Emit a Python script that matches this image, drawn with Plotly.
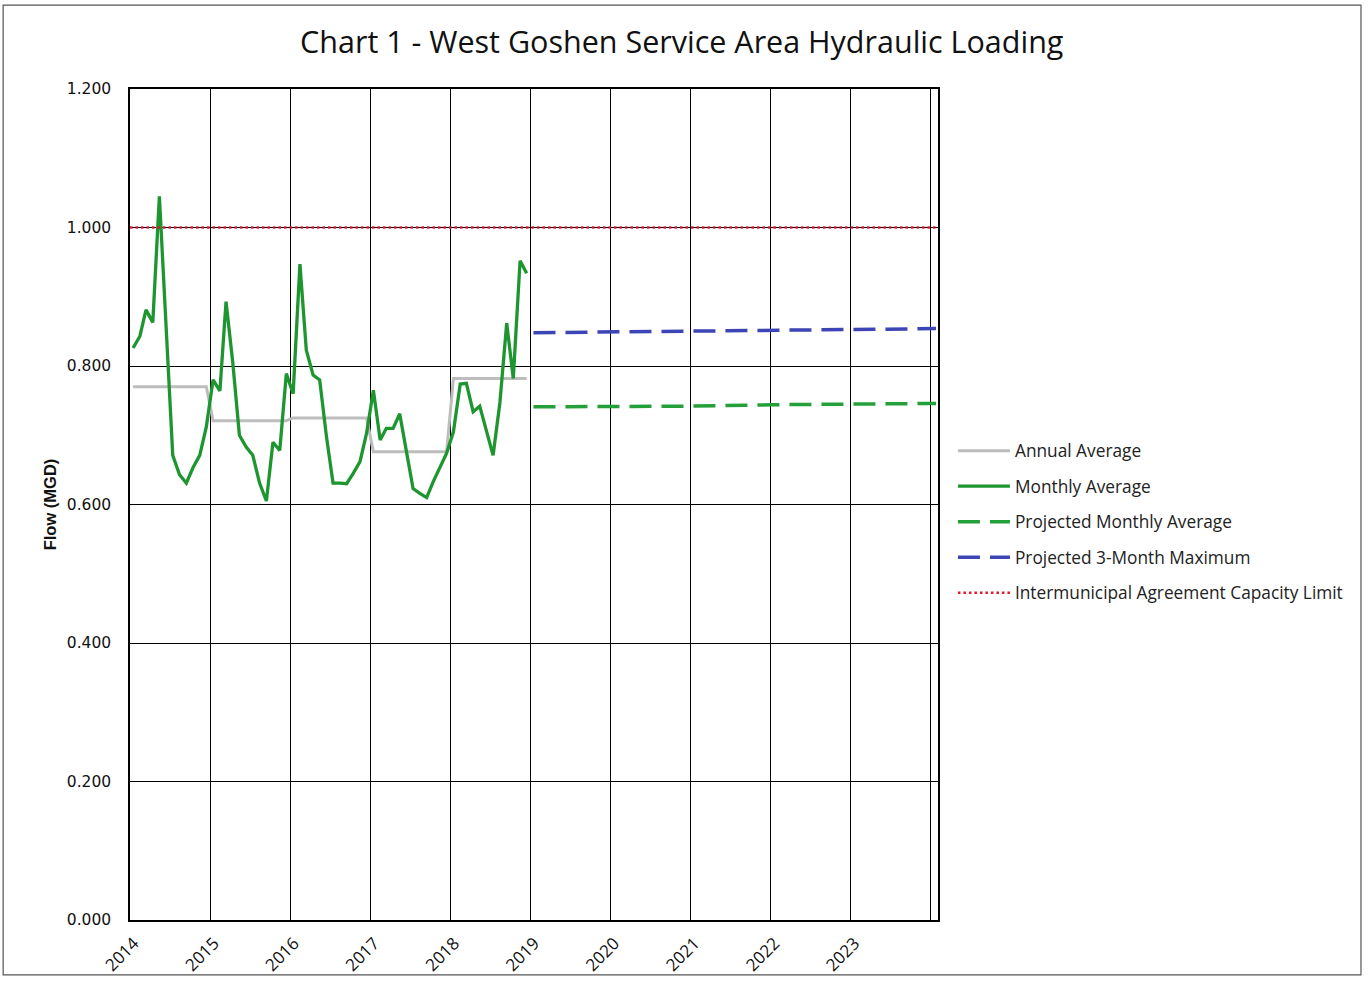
import plotly.graph_objects as go

# ---------------- data ----------------
years_hist = [2014, 2015, 2016, 2017, 2018]
monthly_avg = [
    0.826, 0.843, 0.881, 0.863, 1.045, 0.860, 0.671, 0.643, 0.631, 0.653, 0.671, 0.712,  # 2014
    0.780, 0.764, 0.893, 0.804, 0.700, 0.683, 0.671, 0.631, 0.605, 0.690, 0.678, 0.789,  # 2015
    0.760, 0.947, 0.823, 0.787, 0.780, 0.698, 0.631, 0.631, 0.630, 0.645, 0.662, 0.703,  # 2016
    0.765, 0.693, 0.710, 0.710, 0.731, 0.676, 0.623, 0.616, 0.610, 0.633, 0.654, 0.674,  # 2017
    0.705, 0.774, 0.775, 0.734, 0.742, 0.705, 0.671, 0.747, 0.862, 0.782, 0.952, 0.934,  # 2018
]
annual_avg = [0.770, 0.721, 0.725, 0.676, 0.782]

proj_dates = ["2019-01-15", "2020-01-01", "2021-01-01", "2022-01-01", "2023-01-01", "2024-01-25"]
proj_monthly_avg = [0.741, 0.741, 0.742, 0.744, 0.745, 0.746]
proj_3month_max = [0.848, 0.849, 0.850, 0.852, 0.853, 0.854]

limit_dates = ["2014-01-01", "2024-01-25"]
capacity_limit = [1.000, 1.000]

tick_years = [2014, 2015, 2016, 2017, 2018, 2019, 2020, 2021, 2022, 2023, 2024]
tick_labels = ["2014", "2015", "2016", "2017", "2018", "2019", "2020", "2021", "2022", "2023", ""]

# monthly dates (mid-month)
month_dates = [f"{y}-{m:02d}-15" for y in years_hist for m in range(1, 13)]
annual_series = [annual_avg[i // 12] for i in range(len(month_dates))]

# ---------------- figure ----------------
fig = go.Figure()

fig.add_trace(go.Scatter(x=month_dates, y=annual_series, mode="lines", name="Annual Average",
                         line=dict(color="#BDBDBD", width=3), legendgroup="a"))
fig.add_trace(go.Scatter(x=month_dates, y=monthly_avg, mode="lines", name="Monthly Average",
                         line=dict(color="#1E9630", width=3.3), legendgroup="b"))
fig.add_trace(go.Scatter(x=proj_dates, y=proj_monthly_avg, mode="lines", name="Projected Monthly Average",
                         line=dict(color="#23A03A", width=3.5, dash="22px,10px"), legendgroup="c"))
fig.add_trace(go.Scatter(x=proj_dates, y=proj_3month_max, mode="lines", name="Projected 3-Month Maximum",
                         line=dict(color="#3C44B6", width=3.5, dash="22px,10px"), legendgroup="d"))
fig.add_trace(go.Scatter(x=limit_dates, y=capacity_limit, mode="lines",
                         name="Intermunicipal Agreement Capacity Limit",
                         line=dict(color="#E3162F", width=2.5, dash="2.5px,3px"), legendgroup="e"))

fig.update_layout(
    width=1369, height=981,
    margin=dict(l=130, r=431, t=89, b=61, autoexpand=False),
    paper_bgcolor="white", plot_bgcolor="white",
    title=dict(text="Chart 1 - West Goshen Service Area Hydraulic Loading",
               x=0.498, xanchor="center", y=0.957, yanchor="middle",
               font=dict(family="Open Sans", size=30.5, color="#111111")),
    font=dict(family="Open Sans", color="#111111"),
    legend=dict(x=1.0185, xanchor="left", y=0.479, yanchor="middle",
                font=dict(family="Open Sans", size=17.3, color="#222222"),
                tracegroupgap=10, itemwidth=52, bgcolor="rgba(0,0,0,0)"),
    showlegend=True,
)

fig.update_xaxes(
    type="date",
    range=["2014-01-01", "2024-02-03"],
    tickvals=[f"{y}-01-01" for y in tick_years], ticktext=tick_labels,
    tickangle=-45, tickfont=dict(family="Open Sans", size=17, color="#111111"),
    ticklabelstandoff=5, ticklabelshift=4, automargin=False,
    showgrid=True, gridcolor="#000000", gridwidth=1.2,
    showline=True, linecolor="#000000", linewidth=1.5, mirror=True,
    ticks="", zeroline=False,
)
fig.update_yaxes(
    range=[0, 1.2], tickvals=[0, 0.2, 0.4, 0.6, 0.8, 1.0, 1.2], tickformat=".3f",
    tickfont=dict(family="DejaVu Sans", size=15.5, color="#111111"),
    ticklabelstandoff=14, automargin=False,
    title=dict(text="<b>Flow (MGD)</b>", font=dict(family="Liberation Sans", size=16.5, color="#111111"),
               standoff=6),
    showgrid=True, gridcolor="#000000", gridwidth=1.2,
    showline=True, linecolor="#000000", linewidth=1.5, mirror=True,
    ticks="", zeroline=False,
)

# outer frame of the chart page
fig.add_shape(type="rect", xref="paper", yref="paper",
              x0=-0.157, x1=1.5235, y0=-0.066, y1=1.101,
              line=dict(color="#555555", width=1.2), fillcolor="rgba(0,0,0,0)", layer="below")

fig.write_html("out.html", config={"displayModeBar": False},
               post_script="document.body.style.margin='0';")
